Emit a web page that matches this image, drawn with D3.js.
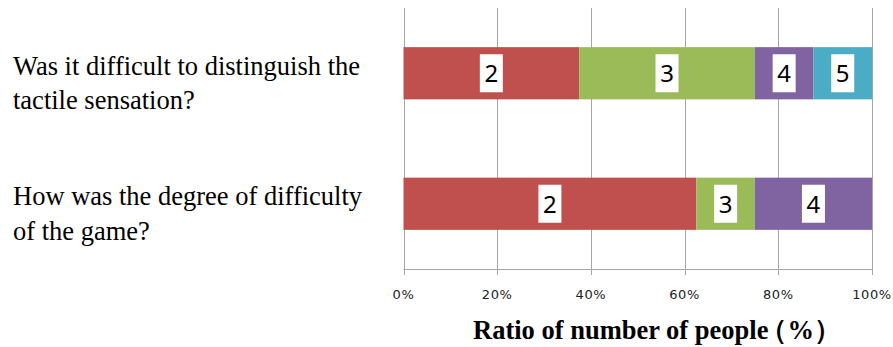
<!DOCTYPE html>
<html>
<head>
<meta charset="utf-8">
<script src="https://cdn.jsdelivr.net/npm/d3@7"></script>
<style>
  html, body { margin: 0; padding: 0; background: #ffffff; }
  svg { display: block; }
</style>
</head>
<body>
<svg id="chart" width="893" height="347"></svg>
<script>
// ---- data ----
const categories = [
  ["Was it difficult to distinguish the", "tactile sensation?"],
  ["How was the degree of difficulty", "of the game?"]
];
const seriesNames = ["2", "3", "4", "5"];
const values2 = [37.5, 62.5];
const values3 = [37.5, 12.5];
const values4 = [12.5, 25];
const values5 = [12.5, 0];
const tickValues = [0, 20, 40, 60, 80, 100];
const tickLabels = ["0%", "20%", "40%", "60%", "80%", "100%"];
const colors = ["#C0504D", "#9BBB59", "#8064A2", "#4BACC6"];
const axisTitleMain = "Ratio of number of people";
const axisTitleUnit = "\uFF08%\uFF09";

const SERIF = '"Liberation Serif", "Times New Roman", serif';
const SANS = '"Noto Sans", "DejaVu Sans", sans-serif';

// ---- layout ----
const svg = d3.select("#chart");
const plot = { left: 403.5, right: 872, top: 8, bottom: 269 };

const x = d3.scaleLinear().domain([0, 100]).range([plot.left, plot.right]);
const y = d3.scaleBand().domain(d3.range(categories.length))
  .range([plot.top, plot.bottom]).paddingInner(0.6).paddingOuter(0.3);

// gridlines
svg.append("g").selectAll("line").data(tickValues).join("line")
  .attr("x1", d => Math.round(x(d)) + 0.5).attr("x2", d => Math.round(x(d)) + 0.5)
  .attr("y1", plot.top).attr("y2", plot.bottom + 6)
  .attr("stroke", "#A6A6A6").attr("stroke-width", 1);

// x axis line
svg.append("line")
  .attr("x1", x(0)).attr("x2", x(100))
  .attr("y1", plot.bottom + 0.5).attr("y2", plot.bottom + 0.5)
  .attr("stroke", "#A6A6A6");

// stacked data
const table = categories.map((c, i) => {
  const row = { idx: i };
  row["2"] = values2[i]; row["3"] = values3[i]; row["4"] = values4[i]; row["5"] = values5[i];
  return row;
});
const stack = d3.stack().keys(seriesNames)(table);

const layers = svg.append("g").selectAll("g").data(stack).join("g")
  .attr("fill", (d, i) => colors[i]);

layers.selectAll("rect").data(d => d.filter(p => p[1] - p[0] > 0)).join("rect")
  .attr("x", d => x(d[0]))
  .attr("width", d => x(d[1]) - x(d[0]))
  .attr("y", d => y(d.data.idx))
  .attr("height", y.bandwidth());

// data labels (series names) in white boxes
const labelG = svg.append("g");
stack.forEach((layer) => {
  layer.forEach(p => {
    if (p[1] - p[0] <= 0) return;
    const cx = (x(p[0]) + x(p[1])) / 2;
    const cy = y(p.data.idx) + y.bandwidth() / 2;
    labelG.append("rect")
      .attr("x", cx - 11.5).attr("y", cy - 19)
      .attr("width", 23).attr("height", 38)
      .attr("fill", "#ffffff");
    labelG.append("text")
      .attr("x", cx).attr("y", cy + 9)
      .attr("text-anchor", "middle")
      .style("font-family", SANS)
      .style("font-size", "24px")
      .attr("fill", "#000")
      .text(layer.key);
  });
});

// tick labels
svg.append("g").selectAll("text").data(tickValues).join("text")
  .attr("x", d => x(d)).attr("y", 298.5)
  .attr("text-anchor", "middle")
  .style("font-family", '"DejaVu Sans", sans-serif')
  .style("font-size", "13px")
  .style("letter-spacing", "0.6px")
  .attr("fill", "#222")
  .text((d, i) => tickLabels[i]);

// category labels
const catG = svg.append("g");
categories.forEach((lines, i) => {
  const cy = y(i) + y.bandwidth() / 2;
  lines.forEach((ln, j) => {
    catG.append("text")
      .attr("x", 13)
      .attr("y", cy + 1.5 + j * 34.5)
      .style("font-family", SERIF)
      .style("font-size", "26.5px")
      .attr("fill", "#000")
      .text(ln);
  });
});

// axis title
const title = svg.append("text")
  .attr("x", 473).attr("y", 338.5)
  .style("font-family", SERIF)
  .style("font-weight", "bold")
  .style("font-size", "26.5px")
  .attr("fill", "#000");
title.append("tspan").text(axisTitleMain);
title.append("tspan").attr("dx", -8).text(axisTitleUnit);
</script>
</body>
</html>
